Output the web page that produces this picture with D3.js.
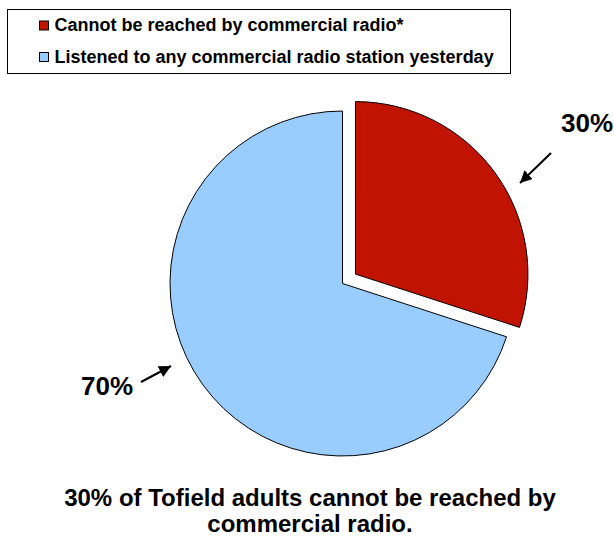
<!DOCTYPE html>
<html>
<head>
<meta charset="utf-8">
<script src="https://cdn.jsdelivr.net/npm/d3@7"></script>
<style>
  body { margin: 0; background: #fff; }
  text { font-family: "Liberation Sans", Arial, sans-serif; font-weight: bold; }
</style>
</head>
<body>
<svg id="chart" width="614" height="543"></svg>
<script>
// data
const categories = ["Cannot be reached by commercial radio*", "Listened to any commercial radio station yesterday"];
const values = [30, 70];
const colors = ["#c01400", "#99ccff"];
const title = ["30% of Tofield adults cannot be reached by", "commercial radio."];

const svg = d3.select("#chart");

// pie geometry
const cx = 342.5, cy = 283.5, r = 172.5;
const explode = 16;

const pie = d3.pie().sort(null).value(d => d)(values);
const arc = d3.arc().innerRadius(0).outerRadius(r);

const g = svg.append("g").attr("transform", `translate(${cx},${cy})`);

g.selectAll("path.slice")
    .data(pie)
    .enter().append("path")
    .attr("class", "slice")
    .attr("d", arc)
    .attr("transform", (d, i) => {
        if (i !== 0) return null;
        const a = (d.startAngle + d.endAngle) / 2;
        return `translate(${explode * Math.sin(a)},${-explode * Math.cos(a)})`;
    })
    .style("fill", (d, i) => colors[i])
    .style("stroke", "#000")
    .style("stroke-width", 1);

// legend
const legend = svg.append("g");
legend.append("rect")
    .attr("x", 7.5).attr("y", 9.5)
    .attr("width", 503).attr("height", 64)
    .style("fill", "#fff").style("stroke", "#000").style("stroke-width", 1);

const item = legend.selectAll("g.item")
    .data(categories)
    .enter().append("g")
    .attr("class", "item")
    .attr("transform", (d, i) => `translate(39,${20.5 + i * 31.5})`);

item.append("rect")
    .attr("x", 0.5).attr("y", 0.5)
    .attr("width", 9).attr("height", 9)
    .style("fill", (d, i) => colors[i])
    .style("stroke", "#000").style("stroke-width", 1);

item.append("text")
    .attr("x", 15.5).attr("y", 10.8)
    .style("font-size", "18px")
    .text(d => d);

// labels + arrows
const defs = svg.append("defs");
defs.append("marker")
    .attr("id", "arrow")
    .attr("viewBox", "0 0 10 10")
    .attr("refX", 10).attr("refY", 5)
    .attr("markerWidth", 6).attr("markerHeight", 6)
    .attr("markerUnits", "strokeWidth")
    .attr("orient", "auto")
    .append("path").attr("d", "M0,0 L10,5 L0,10 z").style("fill", "#000");

const labels = [
    { text: values[0] + "%", x: 587, y: 132, from: [551, 153], to: [520, 183] },
    { text: values[1] + "%", x: 107, y: 394.5, from: [141, 382], to: [171, 366] }
];

svg.selectAll("text.pct")
    .data(labels)
    .enter().append("text")
    .attr("class", "pct")
    .attr("x", d => d.x).attr("y", d => d.y)
    .attr("text-anchor", "middle")
    .style("font-size", "26px")
    .text(d => d.text);

svg.selectAll("line.arrow")
    .data(labels)
    .enter().append("line")
    .attr("class", "arrow")
    .attr("x1", d => d.from[0]).attr("y1", d => d.from[1])
    .attr("x2", d => d.to[0]).attr("y2", d => d.to[1])
    .style("stroke", "#000").style("stroke-width", 2)
    .attr("marker-end", "url(#arrow)");

// title
svg.selectAll("text.title")
    .data(title)
    .enter().append("text")
    .attr("class", "title")
    .attr("x", 310).attr("y", (d, i) => 506 + i * 26)
    .attr("text-anchor", "middle")
    .style("font-size", "24px")
    .text(d => d);
</script>
</body>
</html>
